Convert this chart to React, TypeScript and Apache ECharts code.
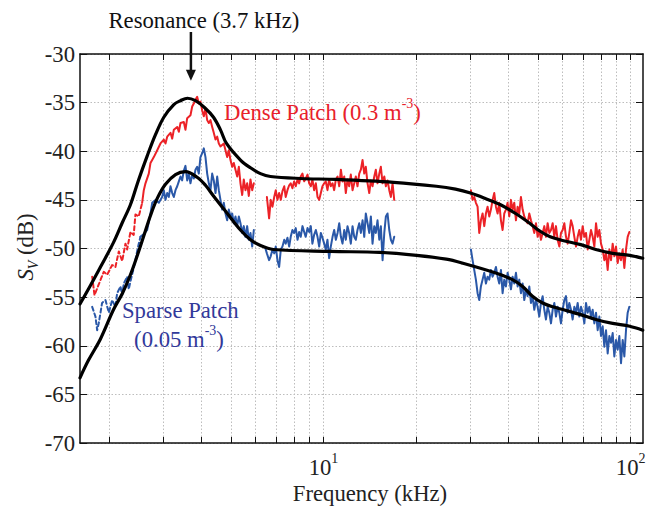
import React, { useEffect, useRef } from "react";
import * as echarts from "echarts";

// ---- axis ranges (kHz / dB) ----
const X_MIN_KHZ = 1.611;
const X_MAX_KHZ = 109.7;
const Y_MIN = -70;
const Y_MAX = -30;
const Y_STEP = 5;
const X_LABEL_KHZ = [10, 100];
const X_TICK_KHZ = [2, 3, 4, 5, 6, 7, 8, 9, 10, 20, 30, 40, 50, 60, 70, 80, 90, 100];

// ---- fitted model curves [kHz, dB] ----
const denseFit: number[][] = [
  [1.611, -55.7], [1.742, -53.8], [1.878, -51.9], [2.07, -49.4], [2.215, -47.3], [2.351, -45.5],
  [2.496, -43.0], [2.665, -40.5], [2.837, -38.3], [3.02, -36.5], [3.255, -35.2], [3.422, -34.8],
  [3.606, -34.55], [3.829, -34.8], [4.096, -35.5], [4.383, -36.5], [4.618, -37.8], [4.832, -39.2],
  [5.365, -40.9], [5.783, -41.7], [6.233, -42.3], [6.718, -42.6], [8.413, -42.8], [11.03, -42.9],
  [16.91, -43.2], [23.3, -43.6], [26.9, -43.9], [30.1, -44.3], [33.9, -44.9], [37.7, -45.5],
  [42.2, -46.4], [46.9, -47.4], [50.6, -48.2], [54.7, -48.8], [60.5, -49.2], [68.8, -49.6],
  [77.0, -50.1], [87.4, -50.5], [99.3, -50.7], [109.5, -51.0],
];
const sparseFit: number[][] = [
  [1.611, -63.3], [1.716, -61.5], [1.878, -59.3], [2.07, -56.3], [2.215, -54.6], [2.351, -52.7],
  [2.477, -50.7], [2.593, -48.8], [2.733, -46.6], [2.88, -44.8], [3.058, -43.4], [3.296, -42.4],
  [3.552, -42.1], [3.887, -42.7], [4.127, -43.5], [4.383, -44.6], [4.832, -46.3], [5.365, -48.1],
  [5.783, -49.1], [6.233, -49.7], [6.87, -50.1], [10.54, -50.3], [15.22, -50.4], [20.1, -50.7],
  [25.1, -51.1], [28.3, -51.5], [36.2, -52.5], [41.2, -53.2], [44.5, -53.9], [47.9, -54.9],
  [51.7, -55.6], [55.8, -56.0], [60.5, -56.3], [68.8, -56.8], [77.0, -57.3], [87.4, -57.7],
  [99.3, -58.0], [109.5, -58.4],
];

// ---- measured spectra, dense patch (red) [kHz, dB] ----
const denseLowDashed: number[][] = [
  [1.765, -52.9], [1.796, -54.8], [1.854, -53.7], [1.925, -52.4], [1.975, -52.7], [2.05, -51.7],
  [2.101, -51.9], [2.155, -50.3], [2.21, -51.3], [2.265, -49.5], [2.294, -50.1], [2.351, -48.3],
  [2.41, -48.6], [2.441, -46.5], [2.503, -46.7], [2.567, -45.3],
];
const densePeak: number[][] = [
  [2.567, -45.3], [2.599, -44.0], [2.632, -43.3], [2.698, -42.3], [2.733, -41.2], [2.802, -40.6],
  [2.874, -39.9], [2.945, -39.2], [3.02, -38.8], [3.058, -39.2], [3.098, -38.5], [3.175, -38.1],
  [3.216, -38.7], [3.255, -37.8], [3.339, -37.5], [3.38, -38.0], [3.422, -37.1], [3.508, -37.0],
  [3.552, -37.8], [3.598, -36.6], [3.688, -36.3], [3.736, -35.4], [3.781, -35.1], [3.829, -34.7],
  [3.878, -34.4], [3.925, -35.1], [3.975, -34.9], [4.027, -35.8], [4.076, -36.4], [4.127, -35.6],
  [4.18, -36.8], [4.232, -37.1], [4.285, -36.8], [4.34, -37.5], [4.392, -38.1], [4.449, -38.8],
  [4.506, -38.5], [4.561, -39.2], [4.618, -39.5], [4.735, -39.2], [4.856, -40.6], [4.915, -39.9],
  [4.978, -40.9], [5.042, -41.6], [5.104, -41.2], [5.168, -41.9], [5.235, -42.6], [5.3, -41.6],
  [5.365, -43.3], [5.435, -44.5], [5.5, -42.9], [5.57, -44.0], [5.642, -43.3], [5.711, -44.6],
  [5.783, -42.9], [5.858, -44.0], [5.93, -43.3],
];
const denseMid: number[][] = [
  [6.54, -44.7], [6.65, -46.9], [6.73, -45.0], [6.82, -45.7], [6.91, -44.7], [6.99, -44.0],
  [7.08, -45.0], [7.17, -44.3], [7.26, -45.0], [7.35, -44.1], [7.45, -43.6], [7.53, -44.7],
  [7.63, -44.0], [7.73, -43.5], [7.82, -43.3], [7.92, -43.8], [8.02, -43.1], [8.12, -43.6],
  [8.23, -42.9], [8.33, -43.3], [8.43, -42.6], [8.54, -42.3], [8.65, -43.1], [8.75, -42.8],
  [8.87, -42.4], [8.98, -43.3], [9.09, -43.6], [9.2, -42.9], [9.32, -44.0], [9.44, -43.3],
  [9.56, -44.7], [9.68, -45.0], [9.8, -44.3], [9.92, -43.6], [10.05, -43.3], [10.17, -43.1],
  [10.3, -44.0], [10.43, -42.9], [10.56, -43.6], [10.7, -43.3], [10.83, -44.0], [10.97, -42.9],
  [11.11, -42.6], [11.25, -43.6], [11.39, -41.9], [11.53, -43.1], [11.68, -42.6], [11.82, -44.3],
  [11.97, -42.9], [12.12, -43.6], [12.27, -42.4], [12.43, -44.0], [12.59, -43.3], [12.74, -42.6],
  [12.9, -43.6], [13.07, -42.3], [13.23, -41.9], [13.4, -40.9], [13.57, -42.3], [13.73, -41.6],
  [13.91, -43.3], [14.09, -44.3], [14.26, -43.0], [14.44, -43.6], [14.63, -42.6], [14.8, -41.9],
  [14.99, -43.3], [15.19, -42.3], [15.37, -41.6], [15.57, -43.3], [15.77, -42.6], [15.96, -43.6],
  [16.16, -43.0], [16.37, -44.0], [16.57, -44.7], [16.78, -43.3], [16.99, -45.0],
];
const denseHigh: number[][] = [
  [30.19, -44.0], [30.57, -45.0], [30.95, -44.7], [31.34, -45.3], [31.74, -45.7], [32.14, -48.4],
  [32.54, -47.1], [32.95, -46.4], [33.37, -47.7], [33.79, -46.4], [34.21, -45.7], [34.64, -46.7],
  [35.08, -46.0], [35.52, -45.0], [35.97, -44.3], [36.42, -45.7], [36.88, -46.4], [37.34, -45.3],
  [37.81, -47.1], [38.29, -48.1], [38.77, -46.4], [39.26, -46.0], [39.75, -45.3], [40.25, -46.7],
  [40.76, -45.0], [41.27, -46.0], [41.79, -45.3], [42.32, -47.1], [42.85, -45.7], [43.39, -46.4],
  [43.93, -44.7], [44.49, -46.0], [45.05, -46.7], [45.61, -47.1], [46.19, -47.4], [46.77, -46.4],
  [47.36, -47.1], [47.95, -47.7], [48.56, -48.4], [49.17, -47.4], [49.79, -48.8], [50.41, -48.1],
  [51.05, -49.1], [51.69, -48.4], [52.34, -47.7], [53.0, -48.8], [53.67, -47.4], [54.34, -48.4],
  [55.03, -48.1], [55.72, -47.4], [56.42, -48.8], [57.13, -47.7], [57.85, -49.1], [58.58, -49.8],
  [59.31, -48.4], [60.06, -48.1], [60.82, -47.4], [61.58, -48.8], [62.36, -49.5], [63.14, -48.4],
  [63.94, -47.1], [64.74, -47.7], [65.56, -48.8], [66.38, -49.8], [67.22, -48.8], [68.06, -48.1],
  [68.92, -49.1], [69.79, -47.7], [70.67, -48.8], [71.55, -48.4], [72.45, -50.1], [73.37, -49.1],
  [74.29, -48.1], [75.22, -48.8], [76.17, -49.8], [77.13, -47.4], [78.1, -48.8], [79.08, -48.1],
  [80.07, -49.5], [81.08, -50.1], [82.1, -51.2], [83.13, -50.5], [84.18, -52.2], [85.24, -50.1],
  [86.31, -51.2], [87.39, -49.5], [88.49, -50.8], [89.61, -49.8], [90.73, -51.5], [91.87, -50.5],
  [93.03, -51.2], [94.2, -50.1], [95.38, -52.0], [96.58, -50.1], [97.79, -48.8], [99.02, -48.3],
];

// ---- measured spectra, sparse patch (blue) [kHz, dB] ----
const sparseLowDashed: number[][] = [
  [1.765, -56.0], [1.809, -57.0], [1.832, -58.4], [1.854, -57.7], [1.901, -55.6], [1.95, -55.3],
  [2.0, -56.6], [2.05, -55.3], [2.101, -56.0], [2.128, -54.6], [2.182, -53.9], [2.21, -54.8],
  [2.237, -53.6], [2.294, -52.9], [2.322, -54.2], [2.351, -53.4], [2.41, -52.0], [2.472, -50.3],
  [2.503, -49.5], [2.535, -48.8],
];
const sparsePeak: number[][] = [
  [2.535, -48.8], [2.599, -48.5], [2.665, -48.1], [2.733, -46.4], [2.768, -45.3], [2.837, -45.0],
  [2.909, -45.3], [2.982, -44.7], [3.02, -44.0], [3.058, -45.0], [3.098, -44.3], [3.136, -44.7],
  [3.175, -43.6], [3.216, -44.3], [3.255, -44.7], [3.296, -44.0], [3.339, -43.6], [3.38, -43.1],
  [3.422, -42.6], [3.465, -43.0], [3.508, -42.0], [3.552, -41.5], [3.598, -43.0], [3.642, -42.3],
  [3.688, -43.3], [3.736, -42.4], [3.781, -42.8], [3.829, -41.9], [3.878, -41.6], [3.925, -42.3],
  [3.975, -40.6], [4.027, -40.2], [4.076, -39.7], [4.127, -40.6], [4.18, -42.3], [4.232, -43.3],
  [4.285, -44.0], [4.34, -42.3], [4.392, -43.0], [4.449, -44.3], [4.506, -42.6], [4.561, -44.0],
  [4.618, -45.0], [4.677, -46.0], [4.735, -45.3], [4.795, -46.4], [4.856, -47.1], [4.915, -46.0],
  [4.978, -46.7], [5.042, -46.4], [5.104, -47.4], [5.168, -46.7], [5.235, -47.7], [5.3, -46.7],
  [5.365, -47.4], [5.435, -48.4], [5.5, -47.7], [5.57, -48.8], [5.642, -47.7], [5.711, -49.1],
  [5.783, -48.4], [5.858, -49.8], [5.93, -48.1],
];
const sparseMid: number[][] = [
  [6.47, -50.0], [6.54, -50.5], [6.65, -51.2], [6.73, -50.8], [6.82, -50.1], [6.91, -50.5],
  [6.99, -49.8], [7.08, -51.2], [7.17, -51.9], [7.26, -50.1], [7.35, -49.8], [7.45, -49.1],
  [7.53, -49.5], [7.63, -48.9], [7.73, -49.8], [7.82, -48.8], [7.92, -48.1], [8.02, -48.4],
  [8.12, -47.9], [8.23, -49.1], [8.33, -48.3], [8.43, -48.8], [8.54, -47.7], [8.65, -48.3],
  [8.75, -48.8], [8.87, -47.9], [8.98, -48.3], [9.09, -47.7], [9.2, -49.5], [9.32, -48.6],
  [9.44, -48.1], [9.56, -48.8], [9.68, -49.8], [9.8, -48.4], [9.92, -48.9], [10.05, -49.5],
  [10.17, -50.1], [10.3, -49.1], [10.43, -51.0], [10.56, -49.8], [10.7, -48.8], [10.83, -48.1],
  [10.97, -49.1], [11.11, -48.4], [11.25, -47.4], [11.39, -48.8], [11.53, -49.5], [11.68, -48.1],
  [11.82, -49.1], [11.97, -47.7], [12.12, -48.4], [12.27, -49.5], [12.43, -47.7], [12.59, -48.8],
  [12.74, -49.1], [12.9, -48.1], [13.07, -47.4], [13.23, -48.4], [13.4, -47.1], [13.57, -48.8],
  [13.73, -46.4], [13.91, -47.4], [14.09, -48.4], [14.26, -46.7], [14.44, -49.5], [14.63, -47.7],
  [14.8, -48.4], [14.99, -47.1], [15.19, -49.1], [15.37, -47.7], [15.57, -51.2], [15.77, -48.4],
  [15.96, -46.7], [16.16, -46.4], [16.37, -48.1], [16.57, -49.1], [16.78, -49.5], [16.99, -48.8],
];
const sparseHigh: number[][] = [
  [30.19, -50.1], [30.57, -51.2], [30.95, -52.2], [31.34, -53.2], [31.74, -54.6], [32.14, -55.3],
  [32.54, -53.9], [32.95, -53.2], [33.37, -52.5], [33.79, -53.6], [34.21, -52.9], [34.64, -53.2],
  [35.08, -52.2], [35.52, -52.9], [35.97, -52.5], [36.42, -51.9], [36.88, -52.9], [37.34, -53.6],
  [37.81, -52.2], [38.29, -54.6], [38.77, -53.2], [39.26, -53.9], [39.75, -52.5], [40.25, -53.2],
  [40.76, -54.2], [41.27, -52.9], [41.79, -53.6], [42.32, -52.5], [42.85, -53.9], [43.39, -53.2],
  [43.93, -54.6], [44.49, -53.6], [45.05, -55.3], [45.61, -54.2], [46.19, -54.9], [46.77, -53.9],
  [47.36, -55.6], [47.95, -54.9], [48.56, -56.3], [49.17, -55.3], [49.79, -56.0], [50.41, -57.0],
  [51.05, -55.6], [51.69, -54.9], [52.34, -56.3], [53.0, -57.3], [53.67, -56.0], [54.34, -56.6],
  [55.03, -57.7], [55.72, -56.3], [56.42, -55.6], [57.13, -57.0], [57.85, -56.0], [58.58, -56.6],
  [59.31, -57.7], [60.06, -56.3], [60.82, -55.3], [61.58, -54.9], [62.36, -56.6], [63.14, -55.6],
  [63.94, -56.3], [64.74, -57.3], [65.56, -56.0], [66.38, -56.6], [67.22, -55.6], [68.06, -57.0],
  [68.92, -56.0], [69.79, -56.6], [70.67, -57.7], [71.55, -55.6], [72.45, -56.6], [73.37, -56.0],
  [74.29, -57.0], [75.22, -56.3], [76.17, -57.7], [77.13, -56.6], [78.1, -58.4], [79.08, -57.0],
  [80.07, -59.0], [81.08, -58.0], [82.1, -60.1], [83.13, -58.4], [84.18, -60.8], [85.24, -59.0],
  [86.31, -59.7], [87.39, -58.7], [88.49, -61.1], [89.61, -59.4], [90.73, -60.4], [91.87, -59.0],
  [93.03, -61.8], [94.2, -59.4], [95.38, -61.1], [96.58, -58.4], [97.79, -56.6], [99.02, -56.0],
];

const RESONANCE_KHZ = 3.7;

const FONT = "Times New Roman, Liberation Serif, DejaVu Serif, serif";
const FS = 22.7;
const RED = "#ec2227";
const BLUE = "#2a58a8";
const RED_TEXT = "#e8212b";
const BLUE_TEXT = "#32399a";

const toLog = (pts: number[][]) => pts.map(([f, v]) => [Math.log10(f), v]);

function lineSeries(pts: number[][], color: string, width: number, dashed = false, z = 2, smooth: any = false) {
  return {
    type: "line",
    data: toLog(pts),
    showSymbol: false,
    symbol: "none",
    silent: true,
    smooth,
    z,
    lineStyle: { color, width, type: dashed ? [4, 3] : "solid", cap: "round", join: "round" },
  };
}

export default function App() {
  const ref = useRef<HTMLDivElement>(null);

  useEffect(() => {
    if (!ref.current) return;
    const chart = echarts.init(ref.current, undefined, { renderer: "svg" });
    const xMin = Math.log10(X_MIN_KHZ);
    const xMax = Math.log10(X_MAX_KHZ);
    const tickVals = X_TICK_KHZ.map((v) => Math.log10(v));
    const labelVals = X_LABEL_KHZ.map((v) => Math.log10(v));
    const frame = { color: "#111", width: 1.5 };
    const grid = { color: "#bdbdbd", width: 1, type: [1.5, 2] };

    chart.setOption({
      animation: false,
      backgroundColor: "#fff",
      textStyle: { fontFamily: FONT },
      grid: { left: 80, right: 29, top: 54, bottom: 64, containLabel: false },
      xAxis: [
        {
          type: "value",
          position: "bottom",
          min: xMin,
          max: xMax,
          axisLine: { show: true, onZero: false, lineStyle: frame },
          axisTick: { show: true, inside: true, length: 6, customValues: tickVals, lineStyle: { color: "#111", width: 1 } },
          axisLabel: {
            customValues: labelVals,
            margin: 8,
            formatter: (v: number) => `{b|10}{s|${Math.round(v)}}`,
            rich: {
              b: { fontSize: FS, fontFamily: FONT, color: "#222", lineHeight: 28, verticalAlign: "bottom" },
              s: { fontSize: 14, fontFamily: FONT, color: "#222", lineHeight: 16, verticalAlign: "top" },
            },
          },
          splitLine: { show: true, lineStyle: grid },
        },
        {
          type: "value",
          position: "top",
          min: xMin,
          max: xMax,
          axisLine: { show: true, onZero: false, lineStyle: frame },
          axisTick: { show: true, inside: true, length: 6, customValues: tickVals, lineStyle: { color: "#111", width: 1 } },
          axisLabel: { show: false },
          splitLine: { show: false },
        },
      ],
      yAxis: [
        {
          type: "value",
          position: "left",
          min: Y_MIN,
          max: Y_MAX,
          interval: Y_STEP,
          axisLine: { show: true, onZero: false, lineStyle: frame },
          axisTick: { show: true, inside: true, length: 7, lineStyle: { color: "#111", width: 1 } },
          axisLabel: { fontSize: FS, fontFamily: FONT, color: "#222", margin: 5 },
          splitLine: { show: true, lineStyle: grid },
        },
        {
          type: "value",
          position: "right",
          min: Y_MIN,
          max: Y_MAX,
          interval: Y_STEP,
          axisLine: { show: true, onZero: false, lineStyle: frame },
          axisTick: { show: true, inside: true, length: 7, lineStyle: { color: "#111", width: 1 } },
          axisLabel: { show: false },
          splitLine: { show: false },
        },
      ],
      series: [
        lineSeries(denseLowDashed, RED, 2, true),
        lineSeries(densePeak, RED, 2),
        lineSeries(denseMid, RED, 2),
        lineSeries(denseHigh, RED, 2),
        lineSeries(sparseLowDashed, BLUE, 2, true),
        lineSeries(sparsePeak, BLUE, 2),
        lineSeries(sparseMid, BLUE, 2),
        lineSeries(sparseHigh, BLUE, 2),
        lineSeries(denseFit, "#000", 3.2, false, 3, 0.35),
        lineSeries(sparseFit, "#000", 3.2, false, 3, 0.35),
      ],
    });

    const peakPx = chart.convertToPixel({ xAxisIndex: 0, yAxisIndex: 0 }, [Math.log10(RESONANCE_KHZ), -34.6]) as number[];
    const ax = peakPx[0];
    const headTip = peakPx[1] - 18;

    chart.setOption({
      graphic: [
        {
          type: "text",
          x: ax + 13,
          y: 20,
          style: { text: "Resonance (3.7 kHz)", fontSize: FS, fontFamily: FONT, fill: "#111", align: "center", verticalAlign: "middle" },
        },
        {
          type: "line",
          shape: { x1: ax, y1: 32, x2: ax, y2: headTip - 9 },
          style: { stroke: "#111", lineWidth: 2.5 },
        },
        {
          type: "polygon",
          shape: { points: [[ax - 5, headTip - 11], [ax + 5, headTip - 11], [ax, headTip]] },
          style: { fill: "#111" },
        },
        {
          type: "text",
          x: 224,
          y: 110,
          style: {
            text: "{r|Dense Patch (0.3 m}{s|-3}{r|)}",
            align: "left",
            verticalAlign: "middle",
            rich: {
              r: { fontSize: FS, fontFamily: FONT, fill: RED_TEXT, lineHeight: 27, verticalAlign: "bottom" },
              s: { fontSize: 14, fontFamily: FONT, fill: RED_TEXT, lineHeight: 14, verticalAlign: "top" },
            },
          },
        },
        {
          type: "text",
          x: 122,
          y: 310,
          style: { text: "Sparse Patch", fontSize: FS, fontFamily: FONT, fill: BLUE_TEXT, align: "left", verticalAlign: "middle" },
        },
        {
          type: "text",
          x: 179,
          y: 337,
          style: {
            text: "{r|(0.05 m}{s|-3}{r|)}",
            align: "center",
            verticalAlign: "middle",
            rich: {
              r: { fontSize: FS, fontFamily: FONT, fill: BLUE_TEXT, lineHeight: 27, verticalAlign: "bottom" },
              s: { fontSize: 14, fontFamily: FONT, fill: BLUE_TEXT, lineHeight: 14, verticalAlign: "top" },
            },
          },
        },
        {
          type: "text",
          x: 27,
          y: 247,
          rotation: Math.PI / 2,
          style: {
            text: "{i|S}{v|V}{n| (dB)}",
            align: "center",
            verticalAlign: "middle",
            rich: {
              i: { fontSize: FS, fontFamily: FONT, fontStyle: "italic", fill: "#222", lineHeight: 26, verticalAlign: "top" },
              v: { fontSize: 14, fontFamily: FONT, fontStyle: "italic", fill: "#222", lineHeight: 14, verticalAlign: "bottom" },
              n: { fontSize: FS, fontFamily: FONT, fill: "#222", lineHeight: 26, verticalAlign: "top" },
            },
          },
        },
        {
          type: "text",
          x: 370,
          y: 493,
          style: { text: "Frequency (kHz)", fontSize: FS, fontFamily: FONT, fill: "#222", align: "center", verticalAlign: "middle" },
        },
      ],
    });

    return () => chart.dispose();
  }, []);

  return <div ref={ref} style={{ position: "fixed", left: 0, top: 0, width: 672, height: 507 }} />;
}
